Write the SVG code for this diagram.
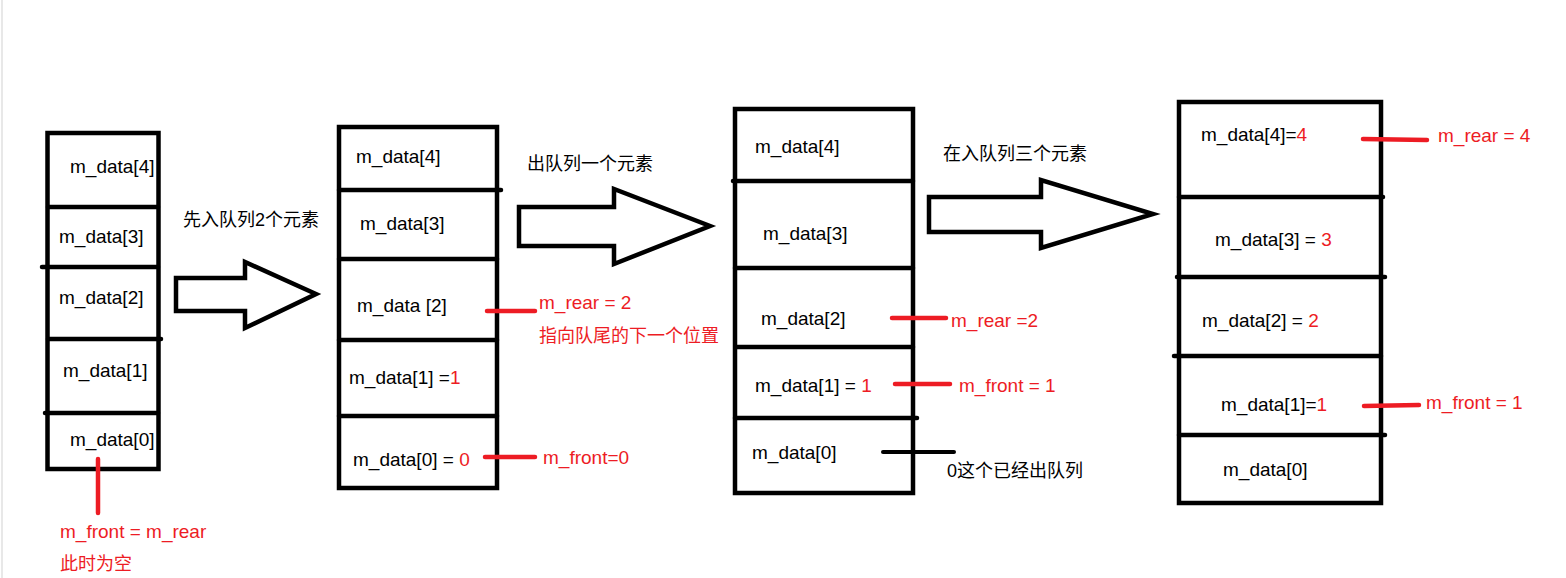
<svg xmlns="http://www.w3.org/2000/svg" width="1566" height="578" viewBox="0 0 1566 578">
<style>
text{font-family:"Liberation Sans","Noto Sans CJK SC",sans-serif;font-size:19px;fill:#000}
.cn{font-size:18px}
.r{fill:#ed1c24}
.box{fill:none;stroke:#000;stroke-width:4.5}
.div{stroke:#000;stroke-width:4.5;stroke-linecap:round}
.arrow{fill:none;stroke:#000;stroke-width:4.5;stroke-linejoin:miter}
.rl{stroke:#ed1c24;stroke-width:4.5;stroke-linecap:round}
.bl{stroke:#000;stroke-width:4;stroke-linecap:round}
</style>
<rect width="1566" height="578" fill="#fff"/>
<line x1="2" y1="0" x2="2" y2="578" stroke="#e8e8e8" stroke-width="2"/>

<g id="queue1">
<rect class="box" x="47.5" y="133" width="111" height="336"/>
<line class="div" x1="48" y1="207" x2="158" y2="207"/>
<line class="div" x1="42" y1="267" x2="158" y2="267"/>
<line class="div" x1="48" y1="339" x2="161" y2="339"/>
<line class="div" x1="45" y1="413" x2="158" y2="413"/>
<text x="70" y="173">m_data[4]</text>
<text x="59" y="243">m_data[3]</text>
<text x="59" y="304">m_data[2]</text>
<text x="63" y="377">m_data[1]</text>
<text x="70" y="446">m_data[0]</text>
</g>
<g id="note1">
<line class="rl" x1="98" y1="459" x2="98" y2="513"/>
<text class="r" x="60" y="538">m_front = m_rear</text>
<text class="r cn" x="60" y="570">此时为空</text>
</g>

<g id="queue2">
<rect class="box" x="339" y="127" width="158" height="361"/>
<line class="div" x1="339" y1="190" x2="501" y2="190"/>
<line class="div" x1="339" y1="259" x2="497" y2="259"/>
<line class="div" x1="339" y1="340" x2="497" y2="340"/>
<line class="div" x1="339" y1="416" x2="497" y2="416"/>
<text x="356" y="163">m_data[4]</text>
<text x="360" y="230">m_data[3]</text>
<text x="357" y="312">m_data [2]</text>
<text x="349" y="384">m_data[1] =<tspan class="r">1</tspan></text>
<text x="353" y="466">m_data[0] = <tspan class="r">0</tspan></text>
</g>
<g id="note2">
<line class="rl" x1="487" y1="311" x2="535" y2="311"/>
<text class="r" x="539" y="309">m_rear = 2</text>
<text class="r cn" x="539" y="342">指向队尾的下一个位置</text>
<line class="rl" x1="485" y1="457" x2="535" y2="457"/>
<text class="r" x="543" y="464">m_front=0</text>
</g>

<g id="queue3">
<rect class="box" x="735" y="109" width="178" height="384"/>
<line class="div" x1="733" y1="181" x2="913" y2="181"/>
<line class="div" x1="735" y1="268" x2="913" y2="268"/>
<line class="div" x1="737" y1="347" x2="913" y2="347"/>
<line class="div" x1="735" y1="418" x2="917" y2="418"/>
<text x="755" y="153">m_data[4]</text>
<text x="763" y="240">m_data[3]</text>
<text x="761" y="325">m_data[2]</text>
<text x="755" y="392">m_data[1] = <tspan class="r">1</tspan></text>
<text x="752" y="459">m_data[0]</text>
</g>
<g id="note3">
<line class="rl" x1="892" y1="318" x2="946" y2="318"/>
<text class="r" x="951" y="327">m_rear =2</text>
<line class="rl" x1="895" y1="384" x2="950" y2="384"/>
<text class="r" x="959" y="392">m_front = 1</text>
<line class="bl" x1="883" y1="452" x2="954" y2="452"/>
<text class="cn" x="947" y="477">0这个已经出队列</text>
</g>

<g id="queue4">
<rect class="box" x="1179" y="102" width="202" height="401"/>
<line class="div" x1="1179" y1="197" x2="1383" y2="197"/>
<line class="div" x1="1177" y1="277" x2="1385" y2="277"/>
<line class="div" x1="1174" y1="356" x2="1381" y2="356"/>
<line class="div" x1="1179" y1="435" x2="1385" y2="435"/>
<text x="1201" y="141">m_data[4]=<tspan class="r">4</tspan></text>
<text x="1215" y="246">m_data[3] = <tspan class="r">3</tspan></text>
<text x="1202" y="327">m_data[2] = <tspan class="r">2</tspan></text>
<text x="1221" y="411">m_data[1]=<tspan class="r">1</tspan></text>
<text x="1223" y="476">m_data[0]</text>
</g>
<g id="note4">
<line class="rl" x1="1363" y1="139" x2="1427" y2="140"/>
<text class="r" x="1438" y="142">m_rear = 4</text>
<line class="rl" x1="1364" y1="406" x2="1419" y2="405"/>
<text class="r" x="1426" y="409">m_front = 1</text>
</g>

<g id="connectors">
<polygon class="arrow" points="176,278 245,278 245,262 316,294 245,328 245,311 176,311"/>
<polygon class="arrow" points="519,207 614,207 614,189 710,226 614,264 614,246 519,246"/>
<polygon class="arrow" points="929,197 1041,197 1041,180 1153,214 1041,248 1041,232 929,232"/>
<text class="cn" x="183" y="226">先入队列2个元素</text>
<text class="cn" x="527" y="170">出队列一个元素</text>
<text class="cn" x="943" y="160">在入队列三个元素</text>
</g>
</svg>
